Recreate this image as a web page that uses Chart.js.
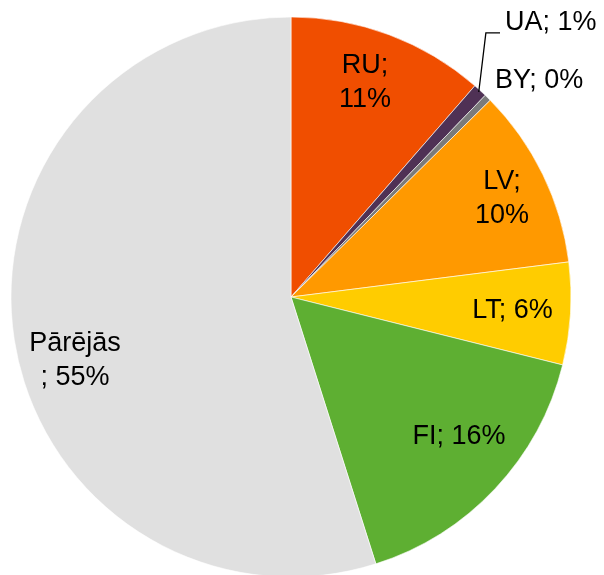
<!DOCTYPE html>
<html>
<head>
<meta charset="utf-8">
<script src="https://cdn.jsdelivr.net/npm/chart.js@4"></script>
<style>
  html, body { margin: 0; padding: 0; background: #fff; overflow: hidden; }
  canvas { display: block; }
</style>
</head>
<body>
<canvas id="pie" width="604" height="600" style="width:604px;height:600px"></canvas>
<script>
// Data (shares in %)
const countries = ['RU', 'UA', 'BY', 'LV', 'LT', 'FI', 'Pārējās'];
const shares = [11.4, 0.8, 0.4, 10.4, 5.9, 16.2, 54.9];
const sliceColors = ['#F04E00', '#4F3155', '#7B7B7B', '#FF9900', '#FFCC00', '#5EAF32', '#E0E0E0'];

// Label placement per slice: radius as part of outer radius, angle shift in degrees
const labelSetup = [
  { r: 0.81, da: -1.5, wrap: 'after' },
  { r: 1.242, da: -4.5, wrap: 'none', outside: true, elbowR: 1.172, elbowDa: -6.05 },
  { r: 1.061, da: -1.3, wrap: 'none', outside: true },
  { r: 0.832, da: 0.8, wrap: 'after' },
  { r: 0.793, da: 0.2, wrap: 'none' },
  { r: 0.78, da: -3.5, wrap: 'none' },
  { r: 0.804, da: -7.5, wrap: 'before' },
];

const pieLabels = {
  id: 'pieLabels',
  afterDatasetsDraw(chart) {
    const ctx = chart.ctx;
    const arcs = chart.getDatasetMeta(0).data;
    ctx.save();
    ctx.font = '27px "Liberation Sans", Arial, sans-serif';
    ctx.fillStyle = '#000';
    ctx.textBaseline = 'middle';
    arcs.forEach((arc, i) => {
      const set = labelSetup[i];
      const mid = (arc.startAngle + arc.endAngle) / 2;
      const ang = mid + set.da * Math.PI / 180;
      const R = arc.outerRadius;
      const px = arc.x + Math.cos(ang) * R * set.r;
      const py = arc.y + Math.sin(ang) * R * set.r;
      const pct = Math.round(shares[i]) + '%';
      let lines;
      if (set.wrap === 'after') lines = [countries[i] + ';', pct];
      else if (set.wrap === 'before') lines = [countries[i], '; ' + pct];
      else lines = [countries[i] + '; ' + pct];
      ctx.textAlign = set.outside ? 'left' : 'center';
      const lh = 34;
      lines.forEach((t, k) => {
        ctx.fillText(t, px, py + (k - (lines.length - 1) / 2) * lh);
      });
      if (set.elbowR) {
        const ea = mid + set.elbowDa * Math.PI / 180;
        const ex = arc.x + Math.cos(ea) * R * set.elbowR;
        const ey = arc.y + Math.sin(ea) * R * set.elbowR;
        ctx.beginPath();
        ctx.strokeStyle = '#000';
        ctx.lineWidth = 1.3;
        ctx.moveTo(arc.x + Math.cos(mid) * (R - 2), arc.y + Math.sin(mid) * (R - 2));
        ctx.lineTo(ex, ey);
        ctx.lineTo(px - 5, ey);
        ctx.stroke();
      }
    });
    ctx.restore();
  }
};

window.onload = function () {
  new Chart(document.getElementById('pie').getContext('2d'), {
    type: 'pie',
    data: {
      labels: countries,
      datasets: [{
        data: shares,
        backgroundColor: sliceColors,
        borderColor: '#ffffff',
        borderWidth: 0.6,
      }],
    },
    options: {
      responsive: false,
      animation: false,
      radius: 280,
      layout: { padding: { left: 11, right: 33, top: 17, bottom: 23 } },
      plugins: {
        legend: { display: false },
        tooltip: { enabled: false },
      },
    },
    plugins: [pieLabels],
  });
};
</script>
</body>
</html>
